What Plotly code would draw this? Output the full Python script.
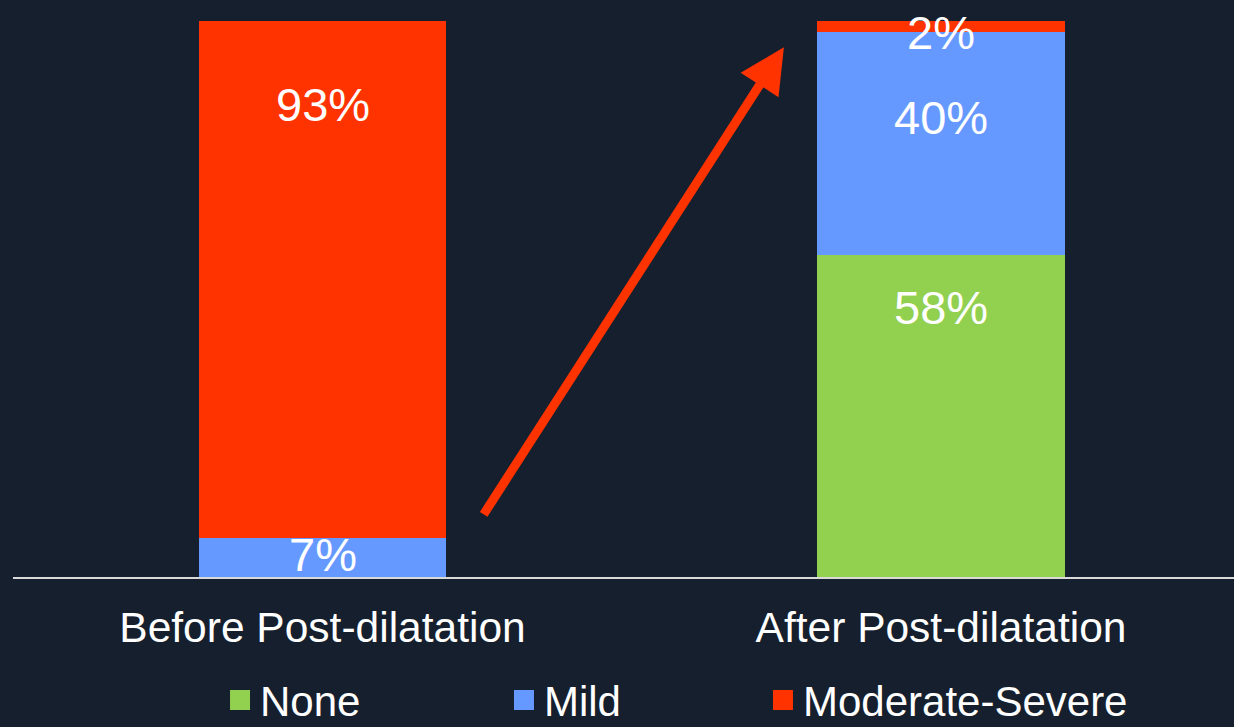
import plotly.graph_objects as go

categories = ["Before Post-dilatation", "After Post-dilatation"]
series_names = ["None", "Mild", "Moderate-Severe"]
none_vals = [0, 58]
mild_vals = [7, 40]
modsev_vals = [93, 2]
colors = ["#92D050", "#6699FF", "#FF3300"]
BG = "#161F2D"
FONT = "Liberation Sans, Arial, sans-serif"

values = [none_vals, mild_vals, modsev_vals]
legends = ["legend", "legend2", "legend3"]

fig = go.Figure()
for name, vals, col in zip(series_names, values, colors):
    fig.add_trace(go.Bar(
        x=categories, y=vals, name=name, marker=dict(color=col, line=dict(width=0)),
        width=0.4, showlegend=False, hoverinfo="skip",
    ))
# legend entries (bigger square swatches)
for name, col, lg in zip(series_names, colors, legends):
    fig.add_trace(go.Scatter(
        x=[None], y=[None], mode="markers", name=name, legend=lg,
        marker=dict(symbol="square", size=16, color=col, line=dict(color=col, width=4)),
    ))

# value labels (yshift offsets from top of segment, in px)
label_shift = {
    (0, 1): -16, (0, 2): -83,
    (1, 0): -53, (1, 1): -85, (1, 2): -11,
}
for ci, cat in enumerate(categories):
    cum = 0
    for si in range(3):
        v = values[si][ci]
        cum += v
        if v <= 0:
            continue
        fig.add_annotation(
            x=cat, y=cum, text=f"{v}%", showarrow=False,
            yshift=label_shift[(ci, si)], yanchor="middle",
            font=dict(family=FONT, size=47, color="white"),
        )

# arrow
fig.add_annotation(
    x=0.746, y=95.3, ax=0.259, ay=11.0, xref="x", yref="y", axref="x", ayref="y",
    showarrow=True, arrowhead=2, arrowsize=1.0, arrowwidth=9, arrowcolor="#FF3300",
    text="", standoff=0, startstandoff=0,
)

leg_common = dict(orientation="h", yanchor="middle", xanchor="left", y=0.037,
                  xref="container", yref="container",
                  font=dict(family=FONT, size=42, color="white"),
                  bgcolor="rgba(0,0,0,0)")
fig.update_layout(
    width=1234, height=727,
    margin=dict(l=13, r=0, t=21, b=150, autoexpand=False),
    paper_bgcolor=BG, plot_bgcolor=BG,
    barmode="stack",
    showlegend=True,
    legend=dict(x=0.1783, **leg_common),
    legend2=dict(x=0.4084, **leg_common),
    legend3=dict(x=0.6183, **leg_common),
    xaxis=dict(
        range=[-0.5004, 1.4737], showgrid=False, zeroline=False,
        showline=True, linecolor="#D9D9D9", linewidth=2,
        ticks="outside", ticklen=12, tickcolor=BG,
        tickfont=dict(family=FONT, size=42.5, color="white"),
        fixedrange=True, automargin=False,
    ),
    yaxis=dict(range=[0, 100], visible=False, fixedrange=True, automargin=False),
    font=dict(family=FONT, color="white"),
)

fig.write_html("out.html")
